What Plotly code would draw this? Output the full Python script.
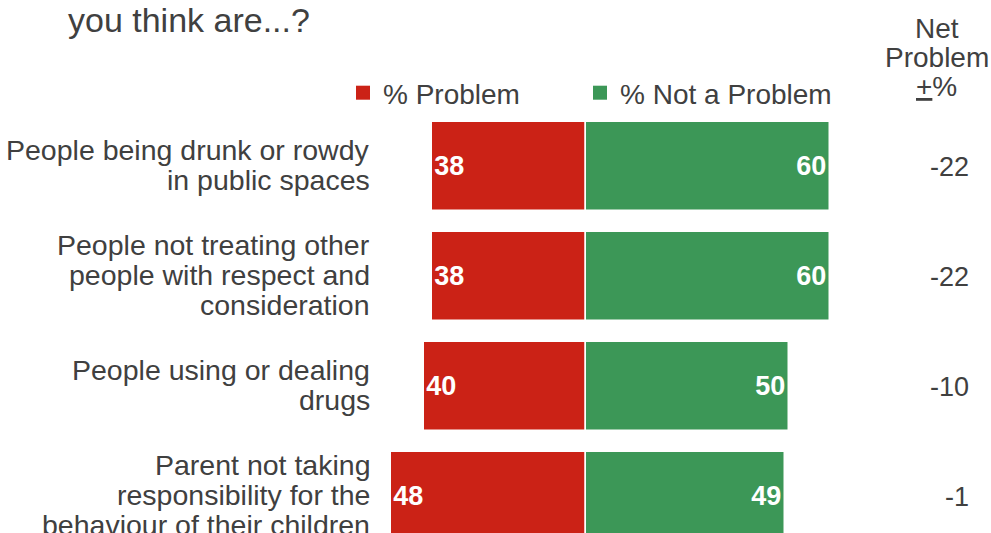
import plotly.graph_objects as go

# Survey results
categories = [
    "People being drunk or rowdy\nin public spaces",
    "People not treating other\npeople with respect and\nconsideration",
    "People using or dealing\ndrugs",
    "Parent not taking\nresponsibility for the\nbehaviour of their children",
]
pct_problem = [38, 38, 40, 48]
pct_not_problem = [60, 60, 50, 49]
net_problem = [p - n for p, n in zip(pct_problem, pct_not_problem)]

series_names = ["% Problem", "% Not a Problem"]
title_text = "you think are...?"
net_header = ["Net", "Problem", "<u>+</u>%"]

RED = "#CB2216"
GREEN = "#3C9757"
GREY = "#404040"
FONT = "Liberation Sans, Arial, sans-serif"

W, H = 991, 533
M_TOP = 111
PX_PER_UNIT = 4.06
ZERO_X = 586
CAT_PX = 110
FIRST_CENTER = 166.5

idx = list(range(len(categories)))

fig = go.Figure()
fig.add_trace(go.Bar(
    name=series_names[0], showlegend=False,
    y=idx, x=[-v for v in pct_problem], base=0,
    orientation="h", width=0.81,
    marker=dict(color=RED, line=dict(color="white", width=1.5)),
    text=[str(v) for v in pct_problem],
    textposition="inside", insidetextanchor="end", textangle=0,
    textfont=dict(family=FONT, size=27, color="white", weight="bold"),
    hoverinfo="skip",
))
fig.add_trace(go.Bar(
    name=series_names[1], showlegend=False,
    y=idx, x=pct_not_problem,
    orientation="h", width=0.81,
    marker=dict(color=GREEN, line=dict(color="white", width=1.5)),
    text=[str(v) for v in pct_not_problem],
    textposition="inside", insidetextanchor="end", textangle=0,
    textfont=dict(family=FONT, size=27, color="white", weight="bold"),
    hoverinfo="skip",
))
# legend entries with square swatches, each in its own legend box
for name, color, leg in zip(series_names, [RED, GREEN], ["legend", "legend2"]):
    fig.add_trace(go.Scatter(
        name=name, x=[None], y=[None], mode="markers",
        marker=dict(symbol="square", size=14, color=color),
        legend=leg, hoverinfo="skip",
    ))

plot_h = H - M_TOP
y_top = -(FIRST_CENTER - M_TOP) / CAT_PX
y_bottom = y_top + plot_h / CAT_PX

x_left = -ZERO_X / PX_PER_UNIT
x_right = (W - ZERO_X) / PX_PER_UNIT

annotations = []
LINE = 30
# category labels, one annotation per line
for i, cat in enumerate(categories):
    lines = cat.split("\n")
    n = len(lines)
    for k, ln in enumerate(lines):
        annotations.append(dict(
            text=ln, xref="paper", x=372 / W, xanchor="right",
            yref="y", y=i, yanchor="middle",
            yshift=((n - 1) / 2 - k) * LINE + 2,
            showarrow=False, font=dict(family=FONT, size=28.5, color=GREY),
        ))
# net column values
for i, v in enumerate(net_problem):
    annotations.append(dict(
        text=str(v), xref="paper", x=971 / W, xanchor="right",
        yref="y", y=i, yanchor="middle",
        showarrow=False, font=dict(family=FONT, size=27, color=GREY),
    ))
# net column header
for k, ln in enumerate(net_header):
    ypix = 28 + k * 29
    annotations.append(dict(
        text=ln, xref="paper", x=936.5 / W, xanchor="center",
        yref="paper", y=1 + (M_TOP - ypix) / plot_h, yanchor="middle",
        showarrow=False, font=dict(family=FONT, size=28, color=GREY),
    ))

legend_style = dict(orientation="h", xanchor="left",
                    y=1 + (M_TOP - 93) / plot_h, yanchor="middle",
                    font=dict(family=FONT, size=28, color=GREY),
                    bgcolor="rgba(0,0,0,0)")

fig.update_layout(
    width=W, height=H,
    margin=dict(l=0, r=0, t=M_TOP, b=0, pad=0),
    paper_bgcolor="white", plot_bgcolor="white",
    barmode="relative", bargap=0,
    title=dict(text=title_text, xref="container", yref="container",
               x=68 / W, xanchor="left", y=1 - 20 / H, yanchor="middle",
               font=dict(family=FONT, size=34, color=GREY)),
    xaxis=dict(range=[x_left, x_right], visible=False, fixedrange=True),
    yaxis=dict(range=[y_bottom, y_top], visible=False, fixedrange=True),
    legend=dict(x=343 / W, **legend_style),
    legend2=dict(x=580 / W, **legend_style),
    annotations=annotations,
    showlegend=True,
)

fig.write_html("out.html")
